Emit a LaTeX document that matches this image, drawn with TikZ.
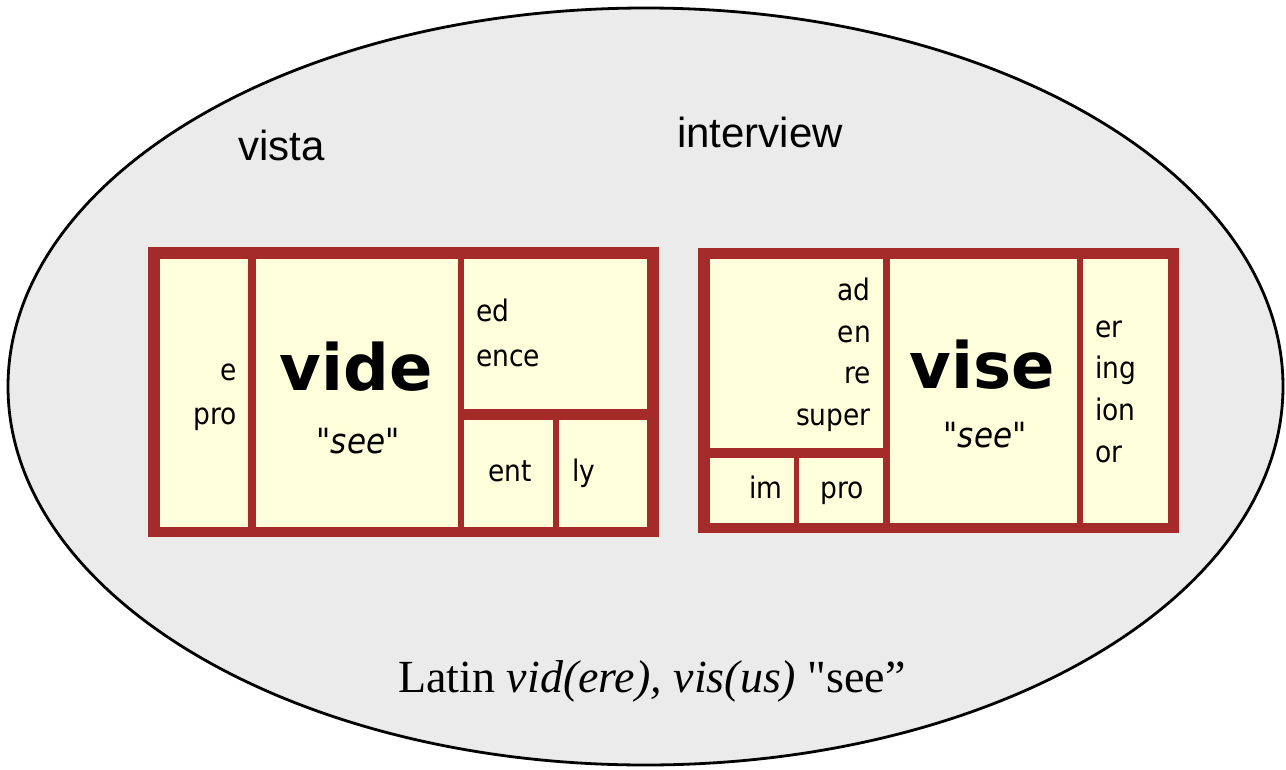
\documentclass[tikz,border=0pt]{standalone}
\usepackage{fontspec}
\setmainfont{Liberation Serif}[Ligatures=TeXOff]
\newfontfamily\boxfont{DejaVu Sans}[Ligatures=TeXOff]
\newfontfamily\labfont{Liberation Sans}
\definecolor{ellgray}{RGB}{235,235,235}
\definecolor{framered}{RGB}{165,42,42}
\definecolor{cellyellow}{RGB}{255,255,220}
\newcommand{\tall}[1]{\scalebox{1}[1.12]{#1}}
\tikzset{
  frame/.style={fill=framered},
  cell/.style={fill=cellyellow},
  affix/.style={inner sep=0pt, font=\boxfont\fontsize{26.5}{30}\selectfont},
  root/.style={inner sep=0pt, font=\boxfont\bfseries\fontsize{64}{70}\selectfont},
  gloss/.style={inner sep=0pt, font=\boxfont\itshape\fontsize{31}{36}\selectfont},
  word/.style={inner sep=0pt, anchor=base west, font=\labfont\fontsize{42}{48}\selectfont}
}
\begin{document}
\begin{tikzpicture}[x=1pt, y=-1pt]
        \useasboundingbox (0,0) rectangle (1286,769);
        \draw[fill=ellgray, line width=2.8pt] (645.5,386.5) ellipse [x radius=637.5, y radius=378.5];

        \node[word] (vista) at (238,160) {vista};
        \node[word] (intv) at (677,147) {interview};

        % vide box
        \fill[frame] (148,247) rectangle (659,537);
        \fill[cell] (160,259) rectangle (248,527);
        \fill[cell] (255.5,259) rectangle (457.5,527);
        \fill[cell] (464,259) rectangle (647,409);
        \fill[cell] (464,420) rectangle (553,527);
        \fill[cell] (559,420) rectangle (647,527);

        \node[affix, anchor=base east] (e) at (237,380) {\tall{e}};
        \node[affix, anchor=base east] (pro1) at (237,424) {\tall{pro}};
        \node[root, anchor=base] (vide) at (356,390) {vide};
        \node[gloss, anchor=base] (see1) at (358,453) {\tall{"see"}};
        \node[affix, anchor=base west] (ed) at (476,321) {\tall{ed}};
        \node[affix, anchor=base west] (ence) at (476,366) {\tall{ence}};
        \node[affix, anchor=base] (ent) at (510,481) {\tall{ent}};
        \node[affix, anchor=base west] (ly) at (572,481) {\tall{ly}};

        % vise box
        \fill[frame] (698,248) rectangle (1179,533);
        \fill[cell] (710,259) rectangle (883,448);
        \fill[cell] (710,458) rectangle (794,523);
        \fill[cell] (799,458) rectangle (883,523);
        \fill[cell] (890,259) rectangle (1077,523);
        \fill[cell] (1083,259) rectangle (1168,523);

        \node[affix, anchor=base east] (ad) at (871,300) {\tall{ad}};
        \node[affix, anchor=base east] (en) at (871,342) {\tall{en}};
        \node[affix, anchor=base east] (re) at (871,383) {\tall{re}};
        \node[affix, anchor=base east] (super) at (871,425) {\tall{super}};
        \node[affix, anchor=base east] (im) at (783,498) {\tall{im}};
        \node[affix, anchor=base west] (pro2) at (820,498) {\tall{pro}};
        \node[root, anchor=base] (vise) at (982,388) {vise};
        \node[gloss, anchor=base] (see2) at (985,447) {\tall{"see"}};
        \node[affix, anchor=base west] (er) at (1095,337) {\tall{er}};
        \node[affix, anchor=base west] (ing) at (1095,378) {\tall{ing}};
        \node[affix, anchor=base west] (ion) at (1095,420) {\tall{ion}};
        \node[affix, anchor=base west] (or) at (1095,462) {\tall{or}};

        \node[inner sep=0pt, anchor=base, font=\fontsize{46}{52}\selectfont] (latin) at (652,692)
            {Latin \textit{vid(ere), vis(us)} "see”};
    \end{tikzpicture}
\end{document}
